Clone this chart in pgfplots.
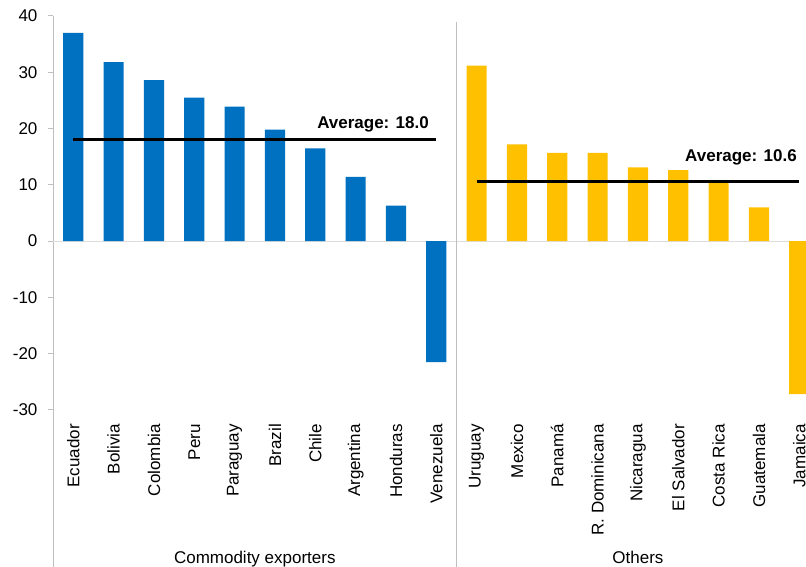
\documentclass[border=0pt]{standalone}
\usepackage{fontspec}
\setmainfont{Liberation Sans}
\usepackage{pgfplots}
\usepackage{pgfplotstable}
\pgfplotsset{compat=1.18}

\definecolor{exportblue}{HTML}{0070C0}
\definecolor{othergold}{HTML}{FFC000}
\definecolor{axisgray}{HTML}{BFBFBF}
\definecolor{zerogray}{HTML}{DDDDDD}

% Commodity exporters (positions 0-9)
\pgfplotstableread{
x y
0 37.0
1 31.8
2 28.6
3 25.5
4 23.9
5 19.8
6 16.5
7 11.4
8 6.3
9 -21.5
}\commodity

% Other economies (positions 10-18)
\pgfplotstableread{
x y
10 31.2
11 17.2
12 15.7
13 15.7
14 13.1
15 12.6
16 10.7
17 6.0
18 -27.2
}\others

\begin{document}
\begin{tikzpicture}[font=\fontsize{17}{20}\selectfont]
\useasboundingbox (-53.15pt,-157pt) rectangle (752.85pt,410pt);
\clip (-53.15pt,-157pt) rectangle (752.85pt,410pt);
\begin{axis}[
  scale only axis,
  width=766.3pt, height=394pt,
  xmin=-0.5, xmax=18.5,
  ymin=-30, ymax=40,
  ytick={-30,-20,...,40},
  xtick={0,...,18},
  xticklabels={Ecuador,Bolivia,Colombia,Peru,Paraguay,Brazil,Chile,Argentina,Honduras,Venezuela,
               Uruguay,Mexico,Panamá,R. Dominicana,Nicaragua,El Salvador,Costa Rica,Guatemala,Jamaica},
  axis line style={draw=none},
  xtick style={draw=none},
  ytick style={draw=axisgray, line width=1pt},
  tick align=outside,
  major tick length=5pt,
  /pgf/number format/assume math mode=true,
  yticklabel style={inner sep=0pt, anchor=east, xshift=-10.5pt},
  xticklabel style={rotate=90, anchor=east, inner sep=0pt},
  xticklabel shift=9pt,
  clip=false,
]
% frame lines: left axis, zero line and group divider
\draw[axisgray, line width=1pt] (axis cs:-0.5,40) -- (axis cs:-0.5,-60);
\draw[zerogray, line width=1pt] (axis cs:-0.5,0) -- (axis cs:18.5,0);
\draw[axisgray, line width=1.3pt] (axis cs:9.5,39) -- (axis cs:9.5,-60);

\addplot[ybar, bar shift=0pt, bar width=0.5, fill=exportblue, draw=none] table[x=x, y=y] {\commodity};
\addplot[ybar, bar shift=0pt, bar width=0.5, fill=othergold, draw=none] table[x=x, y=y] {\others};

% group averages
\addplot[black, line width=3pt] coordinates {(0,18.0) (9,18.0)};
\addplot[black, line width=3pt] coordinates {(10,10.6) (18,10.6)};

\node[anchor=base east, xshift=-4pt, yshift=11pt, font=\bfseries\fontsize{17}{20}\selectfont]
  at (axis cs:9,18.0) {Average: 18.0};
\node[anchor=base east, xshift=1pt, yshift=20pt, font=\bfseries\fontsize{17}{20}\selectfont]
  at (axis cs:18,10.6) {Average: 10.6};

% group names
\node[anchor=base, yshift=-153pt] at (axis cs:4.5,-30) {Commodity exporters};
\node[anchor=base, yshift=-153pt] at (axis cs:14,-30) {Others};
\end{axis}
\end{tikzpicture}
\end{document}
